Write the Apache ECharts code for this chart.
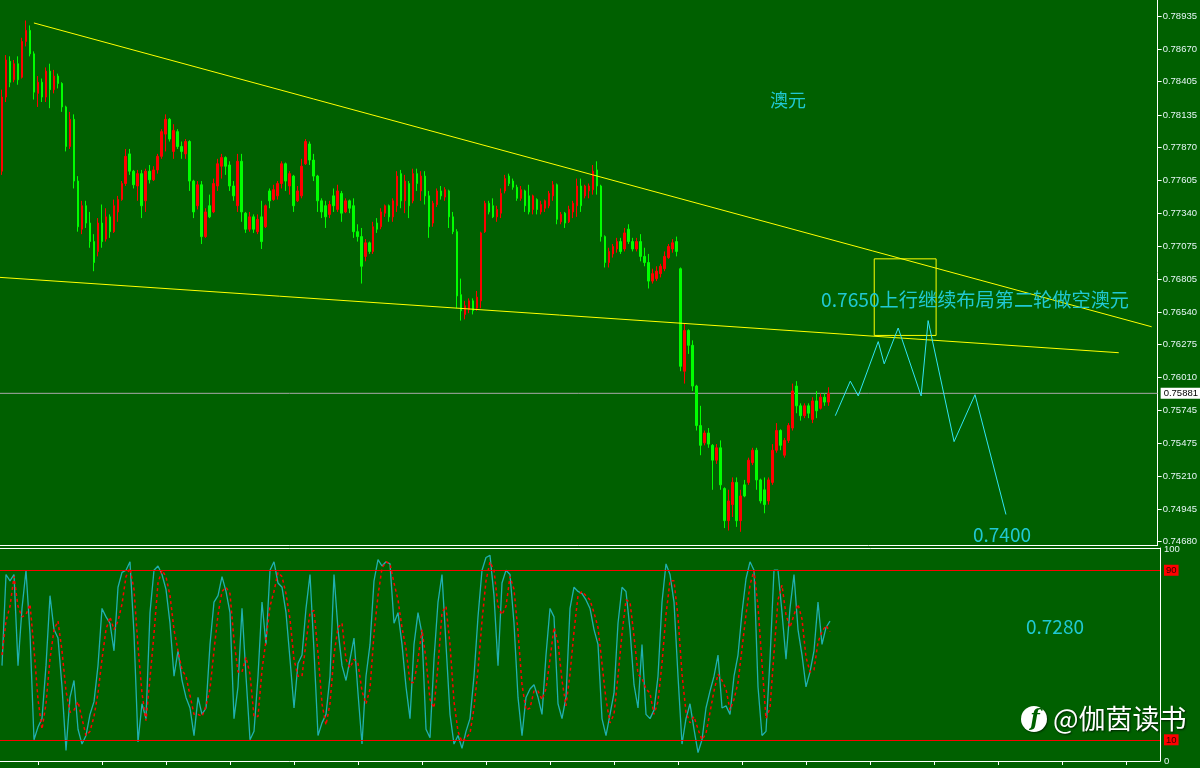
<!DOCTYPE html>
<html>
<head>
<meta charset="utf-8">
<script src="https://cdn.jsdelivr.net/npm/echarts@6/dist/echarts.min.js"></script>
<style>
html,body{margin:0;padding:0;background:#006000;}
#chart{width:1200px;height:768px;}
</style>
</head>
<body>
<div id="chart"></div>
<script>
// ---------- data ----------
const slotCount = 290; // time slots incl. empty space for the forecast
const slotLabels = Array.from({length: slotCount}, (_, i) => String(i));

// [open, close, low, high]
const candles = [
[0.7768,0.7828,0.7765,0.7834],[0.7828,0.7858,0.7824,0.7862],[0.7857,0.7840,0.7836,0.7861],[0.7842,0.7855,0.7840,0.7858],
[0.7855,0.7842,0.7838,0.7861],[0.7844,0.7873,0.7843,0.7876],[0.7873,0.7882,0.7869,0.7890],[0.7882,0.7863,0.7861,0.7886],
[0.7863,0.7832,0.7826,0.7865],[0.7831,0.7840,0.7820,0.7845],[0.7840,0.7828,0.7824,0.7843],[0.7828,0.7849,0.7824,0.7852],
[0.7849,0.7834,0.7819,0.7855],[0.7834,0.7845,0.7831,0.7850],[0.7845,0.7839,0.7835,0.7847],[0.7839,0.7820,0.7816,0.7840],
[0.7820,0.7788,0.7784,0.7821],[0.7788,0.7810,0.7786,0.7816],[0.7810,0.7760,0.7754,0.7814],[0.7760,0.7723,0.7719,0.7764],
[0.7721,0.7740,0.7717,0.7744],[0.7740,0.7726,0.7722,0.7744],[0.7726,0.7711,0.7706,0.7735],[0.7711,0.7694,0.7687,0.7717],
[0.7703,0.7726,0.7699,0.7730],[0.7726,0.7711,0.7706,0.7741],[0.7713,0.7731,0.7711,0.7738],[0.7731,0.7719,0.7714,0.7733],
[0.7719,0.7740,0.7718,0.7745],[0.7735,0.7745,0.7727,0.7748],[0.7745,0.7758,0.7744,0.7760],[0.7758,0.7780,0.7756,0.7786],
[0.7782,0.7768,0.7765,0.7786],[0.7768,0.7757,0.7754,0.7769],[0.7756,0.7766,0.7744,0.7769],[0.7766,0.7740,0.7730,0.7769],
[0.7744,0.7768,0.7735,0.7770],[0.7768,0.7761,0.7758,0.7773],[0.7761,0.7769,0.7760,0.7772],[0.7769,0.7780,0.7766,0.7782],
[0.7780,0.7800,0.7778,0.7802],[0.7798,0.7810,0.7784,0.7814],[0.7810,0.7794,0.7792,0.7811],[0.7784,0.7801,0.7778,0.7806],
[0.7800,0.7788,0.7786,0.7802],[0.7788,0.7784,0.7778,0.7792],[0.7782,0.7792,0.7778,0.7794],[0.7792,0.7760,0.7752,0.7793],
[0.7760,0.7735,0.7730,0.7761],[0.7740,0.7757,0.7737,0.7760],[0.7757,0.7715,0.7709,0.7760],[0.7715,0.7735,0.7714,0.7738],
[0.7740,0.7731,0.7730,0.7749],[0.7735,0.7758,0.7734,0.7762],[0.7756,0.7774,0.7752,0.7778],[0.7772,0.7779,0.7762,0.7782],
[0.7779,0.7772,0.7765,0.7780],[0.7773,0.7756,0.7752,0.7776],[0.7756,0.7748,0.7744,0.7760],[0.7740,0.7776,0.7735,0.7782],
[0.7776,0.7735,0.7727,0.7782],[0.7734,0.7721,0.7718,0.7735],[0.7721,0.7731,0.7719,0.7735],[0.7731,0.7721,0.7718,0.7733],
[0.7719,0.7729,0.7717,0.7733],[0.7731,0.7711,0.7705,0.7744],[0.7723,0.7740,0.7722,0.7741],[0.7752,0.7744,0.7738,0.7754],
[0.7745,0.7753,0.7744,0.7757],[0.7748,0.7758,0.7745,0.7760],[0.7758,0.7774,0.7754,0.7776],[0.7774,0.7760,0.7752,0.7775],
[0.7756,0.7766,0.7749,0.7768],[0.7764,0.7740,0.7735,0.7765],[0.7744,0.7752,0.7743,0.7756],[0.7748,0.7772,0.7746,0.7778],
[0.7774,0.7792,0.7773,0.7794],[0.7790,0.7777,0.7773,0.7792],[0.7777,0.7764,0.7760,0.7782],[0.7764,0.7744,0.7735,0.7765],
[0.7744,0.7735,0.7730,0.7746],[0.7740,0.7731,0.7722,0.7744],[0.7733,0.7741,0.7730,0.7744],[0.7748,0.7740,0.7735,0.7754],
[0.7737,0.7752,0.7735,0.7757],[0.7750,0.7734,0.7727,0.7752],[0.7735,0.7744,0.7734,0.7746],[0.7744,0.7738,0.7734,0.7745],
[0.7740,0.7719,0.7714,0.7746],[0.7719,0.7715,0.7711,0.7725],[0.7715,0.7691,0.7677,0.7722],[0.7699,0.7710,0.7695,0.7713],
[0.7710,0.7703,0.7701,0.7711],[0.7703,0.7723,0.7701,0.7727],[0.7726,0.7721,0.7718,0.7730],[0.7723,0.7735,0.7721,0.7738],
[0.7734,0.7740,0.7731,0.7741],[0.7740,0.7731,0.7727,0.7741],[0.7731,0.7744,0.7727,0.7746],[0.7740,0.7764,0.7735,0.7768],
[0.7766,0.7744,0.7738,0.7769],[0.7744,0.7760,0.7734,0.7765],[0.7758,0.7740,0.7730,0.7760],[0.7744,0.7766,0.7742,0.7770],
[0.7766,0.7758,0.7752,0.7770],[0.7752,0.7764,0.7744,0.7768],[0.7764,0.7748,0.7741,0.7768],[0.7748,0.7723,0.7714,0.7752],
[0.7726,0.7742,0.7723,0.7744],[0.7741,0.7752,0.7739,0.7754],[0.7752,0.7748,0.7745,0.7756],[0.7747,0.7753,0.7744,0.7755],
[0.7752,0.7731,0.7722,0.7753],[0.7731,0.7719,0.7717,0.7735],[0.7719,0.7667,0.7657,0.7721],[0.7668,0.7655,0.7647,0.7681],
[0.7652,0.7659,0.7648,0.7663],[0.7656,0.7663,0.7653,0.7665],[0.7663,0.7655,0.7652,0.7665],[0.7657,0.7666,0.7655,0.7671],
[0.7663,0.7718,0.7657,0.7719],[0.7719,0.7742,0.7718,0.7744],[0.7742,0.7735,0.7733,0.7744],[0.7740,0.7731,0.7730,0.7746],
[0.7731,0.7737,0.7727,0.7740],[0.7734,0.7750,0.7730,0.7754],[0.7752,0.7762,0.7750,0.7765],[0.7764,0.7758,0.7756,0.7766],
[0.7760,0.7755,0.7753,0.7762],[0.7755,0.7746,0.7744,0.7757],[0.7746,0.7753,0.7744,0.7756],[0.7752,0.7740,0.7735,0.7753],
[0.7748,0.7735,0.7733,0.7757],[0.7737,0.7748,0.7733,0.7749],[0.7745,0.7737,0.7733,0.7746],[0.7735,0.7741,0.7733,0.7744],
[0.7738,0.7744,0.7735,0.7745],[0.7740,0.7750,0.7738,0.7752],[0.7748,0.7757,0.7744,0.7760],[0.7757,0.7729,0.7725,0.7758],
[0.7727,0.7733,0.7725,0.7735],[0.7734,0.7726,0.7722,0.7735],[0.7727,0.7737,0.7726,0.7740],[0.7735,0.7742,0.7730,0.7744],
[0.7740,0.7756,0.7731,0.7762],[0.7756,0.7740,0.7735,0.7762],[0.7748,0.7756,0.7746,0.7757],[0.7752,0.7756,0.7746,0.7758],
[0.7753,0.7768,0.7749,0.7773],[0.7769,0.7756,0.7749,0.7776],[0.7756,0.7715,0.7711,0.7757],[0.7715,0.7694,0.7690,0.7716],
[0.7694,0.7703,0.7690,0.7706],[0.7701,0.7707,0.7698,0.7709],[0.7705,0.7711,0.7702,0.7714],[0.7711,0.7703,0.7701,0.7714],
[0.7705,0.7718,0.7703,0.7722],[0.7721,0.7711,0.7709,0.7725],[0.7711,0.7705,0.7703,0.7714],[0.7705,0.7711,0.7703,0.7714],
[0.7711,0.7699,0.7695,0.7717],[0.7699,0.7694,0.7691,0.7706],[0.7694,0.7679,0.7673,0.7701],[0.7679,0.7685,0.7677,0.7689],
[0.7681,0.7687,0.7679,0.7691],[0.7685,0.7691,0.7682,0.7693],[0.7689,0.7699,0.7687,0.7703],[0.7698,0.7707,0.7697,0.7709],
[0.7705,0.7710,0.7702,0.7713],[0.7711,0.7703,0.7699,0.7715],[0.7689,0.7610,0.7606,0.7690],[0.7606,0.7639,0.7596,0.7645],
[0.7639,0.7627,0.7620,0.7640],[0.7627,0.7594,0.7590,0.7631],[0.7594,0.7562,0.7558,0.7595],[0.7562,0.7546,0.7538,0.7578],
[0.7548,0.7556,0.7546,0.7558],[0.7556,0.7547,0.7544,0.7560],[0.7546,0.7534,0.7510,0.7547],[0.7534,0.7544,0.7531,0.7547],
[0.7544,0.7514,0.7510,0.7550],[0.7511,0.7485,0.7479,0.7512],[0.7485,0.7501,0.7477,0.7510],[0.7498,0.7516,0.7488,0.7520],
[0.7516,0.7485,0.7480,0.7520],[0.7485,0.7505,0.7476,0.7510],[0.7514,0.7505,0.7504,0.7518],[0.7516,0.7534,0.7514,0.7536],
[0.7532,0.7542,0.7530,0.7544],[0.7542,0.7518,0.7510,0.7544],[0.7518,0.7501,0.7499,0.7519],[0.7510,0.7498,0.7491,0.7520],
[0.7501,0.7518,0.7498,0.7520],[0.7516,0.7542,0.7514,0.7547],[0.7542,0.7558,0.7540,0.7564],[0.7558,0.7546,0.7542,0.7559],
[0.7538,0.7550,0.7536,0.7552],[0.7550,0.7562,0.7548,0.7564],[0.7560,0.7590,0.7558,0.7596],[0.7594,0.7578,0.7572,0.7598],
[0.7578,0.7570,0.7566,0.7580],[0.7570,0.7578,0.7568,0.7580],[0.7578,0.7572,0.7568,0.7580],[0.7567,0.7582,0.7564,0.7585],
[0.7582,0.7574,0.7568,0.7590],[0.7576,0.7585,0.7575,0.7588],[0.7585,0.7581,0.7578,0.7588],[0.7581,0.7588,0.7578,0.7593]
];

const stochMain = [
45,88,85,88,45,72,90,60,10,16,20,45,78,62,58,35,5,30,38,15,8,12,22,28,45,72,68,65,52,82,
89,90,94,60,9,27,20,70,90,92,88,81,65,40,52,38,30,25,12,30,22,25,55,75,78,87,80,70,20,35,
72,40,10,14,40,75,55,90,94,84,82,70,48,25,46,50,72,88,52,12,18,22,40,88,62,45,38,48,58,32,
8,40,55,85,95,92,94,93,65,70,55,35,20,55,70,60,15,11,48,75,88,55,22,8,12,6,14,20,40,68,
90,96,97,78,45,84,90,88,65,30,12,30,34,36,30,22,50,72,68,27,20,30,72,82,80,79,76,72,62,55,
20,12,22,32,65,82,80,62,36,25,55,22,20,24,40,75,93,88,75,40,8,20,27,15,4,10,25,33,40,50,
25,26,22,40,50,70,86,94,90,35,12,14,48,90,90,70,48,72,88,62,50,35,42,52,75,55,63,66
];
const stochSignal = [
50,66,73,87,73,68,69,74,53,29,15,27,48,62,66,52,33,23,24,28,20,12,14,21,32,48,62,68,62,66,
74,87,91,81,54,32,19,39,60,84,90,87,78,62,52,43,40,31,22,22,21,26,34,52,69,80,82,79,57,42,
42,49,41,21,21,43,57,73,80,89,87,79,67,48,40,40,56,70,71,51,27,17,27,50,63,65,48,44,48,46,
33,27,34,60,78,91,94,93,84,76,63,53,37,37,48,62,48,29,25,45,70,73,55,28,14,9,11,13,25,43,
66,85,94,90,73,69,73,87,81,61,36,24,25,33,33,29,34,48,63,56,38,26,41,61,78,80,78,76,70,63,
46,29,18,22,40,60,76,75,59,41,39,34,32,22,28,46,69,85,85,68,41,23,18,21,15,10,13,23,33,41,
38,34,24,29,37,53,69,83,90,73,46,20,25,51,76,83,69,63,69,74,67,49,42,43,56,61,64,61
];

const priceTicks = [0.74680,0.74945,0.75210,0.75475,0.75745,0.76010,0.76275,0.76540,0.76805,0.77075,0.77340,0.77605,0.77870,0.78135,0.78405,0.78670,0.78935];
const oscTicks = [0, 10, 90, 100];
const oscLevels = [90, 10];
const lastPrice = 0.75881;

// annotation geometry in [slot index, price]
const upperTrend = [[8, 0.7888], [288, 0.7642]];
const lowerTrend = [[-0.5, 0.7682], [279.75, 0.7621]];
const targetBox = [[218.5, 0.7697], [234, 0.7697], [234, 0.7635], [218.5, 0.7635], [218.5, 0.7697]];
const forecastPath = [[208.75,0.7570],[212.5,0.7598],[214.5,0.7586],[219.5,0.7630],[221,0.7612],[224.5,0.7641],[230.25,0.7586],[232,0.7647],[238.5,0.7549],[243.75,0.7587],[251.5,0.7490]];
const priceLine = [[-0.5, lastPrice], [slotCount - 0.5, lastPrice]];

const labelTitle = '澳元';
const labelPlan = '0.7650上行继续布局第二轮做空澳元';
const labelTarget1 = '0.7400';
const labelTarget2 = '0.7280';
const watermark = '@伽茵读书';

// ---------- chart ----------
const chart = echarts.init(document.getElementById('chart'), null, {renderer: 'canvas'});
const cyanText = '#20c8d2';
const CJK = '"Noto Sans CJK SC", "Noto Sans", sans-serif';
const AXF = '"Liberation Sans", Arial, sans-serif';
const WHITE_LINE = {show: true, onZero: false, lineStyle: {color: '#ffffff', width: 1}};

function overlay(data, color, extra) {
  return Object.assign({
    type: 'line', xAxisIndex: 1, yAxisIndex: 0, data: data,
    symbol: 'none', showSymbol: false, silent: true, z: 5,
    lineStyle: {color: color, width: 1}, animation: false
  }, extra || {});
}

const option = {
  backgroundColor: '#006000',
  animation: false,
  grid: [
    {left: -2, top: -2, right: 40, height: 547, show: false},
    {left: -2, top: 548, right: 40, height: 213, show: false}
  ],
  xAxis: [
    {type: 'category', gridIndex: 0, data: slotLabels, boundaryGap: true, position: 'bottom',
     axisLine: WHITE_LINE, axisTick: {show: false}, axisLabel: {show: false}, splitLine: {show: false}},
    {type: 'value', gridIndex: 0, min: -0.5, max: slotCount - 0.5, show: false},
    {type: 'category', gridIndex: 1, data: slotLabels, boundaryGap: true, position: 'bottom',
     axisLine: WHITE_LINE,
     axisTick: {show: true, alignWithLabel: true, length: 4, interval: (idx) => idx % 16 === 9, lineStyle: {color: '#ffffff'}},
     axisLabel: {show: false}, splitLine: {show: false}},
    {type: 'category', gridIndex: 1, data: slotLabels, boundaryGap: true, position: 'top',
     axisLine: WHITE_LINE, axisTick: {show: false}, axisLabel: {show: false}, splitLine: {show: false}}
  ],
  yAxis: [
    {type: 'value', gridIndex: 0, position: 'right', min: 0.74653, max: 0.79066,
     axisLine: WHITE_LINE,
     axisTick: {show: true, inside: false, length: 4, customValues: priceTicks, lineStyle: {color: '#ffffff'}},
     axisLabel: {show: true, customValues: priceTicks, formatter: (v) => v.toFixed(5), color: '#e6f6f6', fontSize: 9.5, margin: 5, fontFamily: AXF},
     splitLine: {show: false}},
    {type: 'value', gridIndex: 1, position: 'right', min: 0, max: 100.5,
     axisLine: WHITE_LINE,
     axisTick: {show: false, customValues: oscTicks},
     axisLabel: {show: true, customValues: oscTicks, margin: 4, fontSize: 9.5, fontFamily: AXF,
       formatter: (v) => (v === 90 || v === 10) ? '{r|' + v + '}' : '{w|' + v + '}',
       rich: {
         r: {backgroundColor: '#ff0000', color: '#300000', fontSize: 9.5, padding: [1, 2, 0, 2]},
         w: {color: '#e6f6f6', fontSize: 9.5}
       }},
     splitLine: {show: false}}
  ],
  series: [
    {
      type: 'candlestick', xAxisIndex: 0, yAxisIndex: 0, data: candles, barWidth: 2,
      itemStyle: {color: '#ff0000', color0: '#00ff00', borderColor: '#ff0000', borderColor0: '#00ff00', borderWidth: 1}
    },
    overlay(priceLine, '#a8a8a8', {
      z: 2,
      endLabel: {show: true, formatter: () => lastPrice.toFixed(5), distance: 3,
        backgroundColor: '#ffffff', color: '#000000', fontSize: 9.5, padding: [1, 3, 0, 3], fontFamily: AXF}
    }),
    overlay(upperTrend, '#ffff00'),
    overlay(lowerTrend, '#ffff00'),
    overlay(targetBox, '#ffff00'),
    overlay(forecastPath, '#30e4f4'),
    {
      type: 'line', xAxisIndex: 2, yAxisIndex: 1, data: stochMain, symbol: 'none', showSymbol: false,
      lineStyle: {color: '#20b0b0', width: 1.3}, z: 3, silent: true,
      markLine: {
        silent: true, symbol: ['none', 'none'], animation: false,
        lineStyle: {color: '#ff0000', type: 'solid', width: 1}, label: {show: false},
        data: oscLevels.map(v => ({yAxis: v}))
      }
    },
    {
      type: 'line', xAxisIndex: 2, yAxisIndex: 1, data: stochSignal, symbol: 'none', showSymbol: false,
      lineStyle: {color: '#ff0000', width: 1.5, type: [3, 3]}, z: 4, silent: true
    }
  ],
  graphic: [
    {type: 'text', x: 770, y: 100, silent: true, z: 10,
     style: {text: labelTitle, fill: cyanText, font: '18px ' + CJK, align: 'left', verticalAlign: 'middle', textAlign: 'left', textVerticalAlign: 'middle'}},
    {type: 'text', x: 821, y: 300, silent: true, z: 10,
     style: {text: labelPlan, fill: cyanText, font: '19.2px ' + CJK, align: 'left', verticalAlign: 'middle', textAlign: 'left', textVerticalAlign: 'middle'}},
    {type: 'text', x: 973, y: 535, silent: true, z: 10,
     style: {text: labelTarget1, fill: cyanText, font: '19px ' + CJK, align: 'left', verticalAlign: 'middle', textAlign: 'left', textVerticalAlign: 'middle'}},
    {type: 'text', x: 1026, y: 627, silent: true, z: 10,
     style: {text: labelTarget2, fill: cyanText, font: '19px ' + CJK, align: 'left', verticalAlign: 'middle', textAlign: 'left', textVerticalAlign: 'middle'}},
    {type: 'circle', shape: {cx: 1034, cy: 719, r: 13}, silent: true, z: 10,
     style: {fill: '#ffffff', shadowColor: 'rgba(0,0,0,0.5)', shadowBlur: 2, shadowOffsetX: 1, shadowOffsetY: 1}},
    {type: 'text', x: 1035, y: 719, silent: true, z: 11,
     style: {text: 'f', fill: '#006000', font: 'italic bold 22px "DejaVu Serif", serif', align: 'center', verticalAlign: 'middle', textAlign: 'center', textVerticalAlign: 'middle'}},
    {type: 'text', x: 1053, y: 719, silent: true, z: 10,
     style: {text: watermark, fill: '#ffffff', font: '27px ' + CJK, align: 'left', verticalAlign: 'middle', textAlign: 'left', textVerticalAlign: 'middle',
       textShadowColor: 'rgba(0,0,0,0.7)', textShadowBlur: 2, textShadowOffsetX: 1, textShadowOffsetY: 1}}
  ]
};
chart.setOption(option);
</script>
</body>
</html>
